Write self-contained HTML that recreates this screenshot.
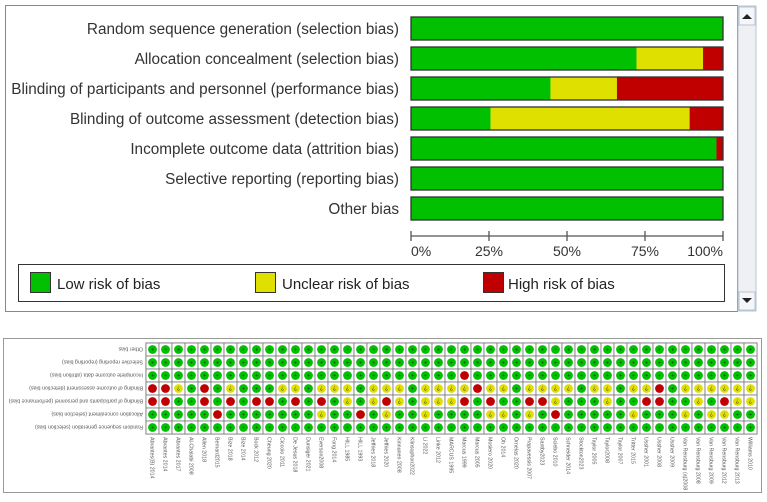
<!DOCTYPE html>
<html><head><meta charset="utf-8"><style>
body{margin:0;background:#fff;width:767px;height:497px;overflow:hidden;font-family:"Liberation Sans",sans-serif}
</style></head><body>
<svg id="svg" width="767" height="497" xmlns="http://www.w3.org/2000/svg">
<rect x="5.5" y="5.5" width="732" height="306" fill="#fff" stroke="#888"/>
<g>
<rect x="738" y="6" width="18" height="305" fill="#eef0f4" stroke="#b8c4d4"/>
<rect x="739" y="7" width="16" height="18" fill="#f4f6f9" stroke="#b8c4d4"/>
<path d="M742 19 L747 14 L752 19 Z" fill="#222"/>
<rect x="739" y="292" width="16" height="18" fill="#f4f6f9" stroke="#b8c4d4"/>
<path d="M742 298 L747 303 L752 298 Z" fill="#222"/>
</g>
<g id="bars"></g>
<g id="axis"></g>
<g>
<rect x="18.5" y="264.5" width="706" height="37" fill="#fff" stroke="#333"/>
<g><rect x="30.5" y="272.5" width="20" height="20" fill="#00c000" stroke="#333"/><text x="57" y="289" font-size="15" fill="#222">Low risk of bias</text></g>
<g><rect x="255.5" y="272.5" width="20" height="20" fill="#e0e000" stroke="#333"/><text x="282" y="289" font-size="15" fill="#222">Unclear risk of bias</text></g>
<g><rect x="483.5" y="272.5" width="20" height="20" fill="#c00000" stroke="#333"/><text x="508" y="289" font-size="15" fill="#222">High risk of bias</text></g>
</g>
<rect x="3.5" y="338.5" width="758" height="154" fill="#fff" stroke="#999"/>
<g id="summary"></g>
</svg>
<script>
const domains=["Random sequence generation (selection bias)","Allocation concealment (selection bias)","Blinding of participants and personnel (performance bias)","Blinding of outcome assessment (detection bias)","Incomplete outcome data (attrition bias)","Selective reporting (reporting bias)","Other bias"];
const lowPct=[100,72.3,44.7,25.5,97.9,100,100];
const unclearPct=[0,21.3,21.3,63.8,0,0,0];
const highPct=[0,6.4,34.0,10.6,2.1,0,0];
const ticks=["0%","25%","50%","75%","100%"];
const tickVals=[0,25,50,75,100];
const studies=["Abrantes(B) 2014","Abrantes 2014","Abrantes 2017","Al-Chalabi 2008","Allen 2018","Bernard2015","Bize 2018","Bize 2014","Bock 2012","Cheung 2020","Ciccolo 2011","De Jesus 2018","Dunsiger 2021","Everson2008","Fong 2014","HILL 1985","HILL 1993","Jeffries 2018","Jeffries 2020","Kinnunen 2008","Klinsophon2022","Li 2022","Linke 2012","MARCUS 1995","Marcus 1999","Marcus 2005","Mosiero 2020","Oh 2014","Ornelas 2020","Prapavessis 2007","Santby2023","Sciebo 2010","Schneider 2014","Stockton2023","Taylor 2005","Taylor2008","Taylor 2007","Tritter 2015","Ussher 2001","Ussher 2008","Ussher 2009","Van Rensburg (a)2008","Van Rensburg 2008","Van Rensburg 2009","Van Rensburg 2012","Van Rensburg 2013","Williams 2010"];
const summaryRows=["Other bias","Selective reporting (reporting bias)","Incomplete outcome data (attrition bias)","Blinding of outcome assessment (detection bias)","Blinding of participants and personnel (performance bias)","Allocation concealment (selection bias)","Random sequence generation (selection bias)"];
const rowOther="GGGGGGGGGGGGGGGGGGGGGGGGGGGGGGGGGGGGGGGGGGGGGGG";
const rowSelective="GGGGGGGGGGGGGGGGGGGGGGGGGGGGGGGGGGGGGGGGGGGGGGG";
const rowIncomplete="GGGGGGGGGGGGGGGGGGGGGGGGRGGGGGGGGGGGGGGGGGGGGGG";
const rowOutcome="RRYGRGYGGGYYGYYYGY"+"YYGYYYYRYYGYYYYGYYGYYRGYYYYYY";
const rowParticipants="RRGGRGRGRRGRGRGYGY"+"RYGYYYRGRGGRRYGGGYGGRRGGYGRYY";
const rowAllocation="GGGGGRGGGGGGGYGGRG"+"YGGYGGGGYYGYGRGGGGGYGGGYGYYGG";
const rowRandom="GGGGGGGGGGGGGGGGGGGGGGGGGGGGGGGGGGGGGGGGGGGGGGG";
const summaryData=[rowOther,rowSelective,rowIncomplete,rowOutcome,rowParticipants,rowAllocation,rowRandom];

const NS="http://www.w3.org/2000/svg";
function mk(tag,attrs,parent){const e=document.createElementNS(NS,tag);for(const k in attrs)e.setAttribute(k,attrs[k]);parent.appendChild(e);return e;}
const x0=411,x1=723;
const xs=v=>x0+(x1-x0)*v/100;
const yRow=i=>17+i*30;
const barH=23;
const bars=document.getElementById('bars');
domains.forEach((d,i)=>{
  const y=yRow(i);
  const g=mk('g',{},bars);
  
  
  const t=mk('text',{x:399,y:y+17,'font-size':'15.3','text-anchor':'end',fill:'#333'},g);
  t.textContent=d;
  
  
  const segs=[[0,lowPct[i],'#00c000','low'],[lowPct[i],lowPct[i]+unclearPct[i],'#e0e000','unclear'],[lowPct[i]+unclearPct[i],lowPct[i]+unclearPct[i]+highPct[i],'#c00000','high']];
  segs.forEach(s=>{
    if(s[1]-s[0]<=0)return;
    const r=mk('rect',{x:xs(s[0]),y:y,width:xs(s[1])-xs(s[0]),height:barH,fill:s[2]},g);
    
    
  });
  mk('rect',{x:x0,y:y,width:x1-x0,height:barH,fill:'none',stroke:'#333','stroke-width':1.3},g);
});
const axis=document.getElementById('axis');
mk('line',{x1:x0,y1:236,x2:x1,y2:236,stroke:'#555','stroke-width':1.3},axis);
tickVals.forEach((v,i)=>{
  mk('line',{x1:xs(v),y1:231,x2:xs(v),y2:241,stroke:'#555','stroke-width':1.3},axis);
  const t=mk('text',{x:xs(v),y:256,'font-size':'14','text-anchor':v===0?'start':(v===100?'end':'middle'),fill:'#333'},axis);
  t.textContent=ticks[i];
  
  
});
const sum=document.getElementById('summary');
const gx0=146,gy0=343,cw=611/studies.length,rh=13;
const colors={G:'#00c000',Y:'#e0e000',R:'#c00000'};
summaryRows.forEach((r,ri)=>{
  const cy=gy0+ri*rh+rh/2;
  const t=mk('text',{x:0,y:0,'font-size':'5.3',fill:'#555',transform:`translate(143,${cy-2}) rotate(180)`},sum);
  t.textContent=r;
  
  
});
mk('rect',{x:gx0,y:gy0,width:611,height:rh*7,fill:'#fff',stroke:'#777'},sum);
studies.forEach((s,ci)=>{
  const cx=gx0+ci*cw+cw/2;
  const t=mk('text',{x:0,y:0,'font-size':'5.3',fill:'#555',transform:`translate(${cx-2},${gy0+rh*7+3}) rotate(90)`},sum);
  t.textContent=s;
  
  
  summaryData.forEach((row,ri)=>{
    const v=row[ci];
    const x=gx0+ci*cw,y=gy0+ri*rh;
    mk('rect',{x:x,y:y,width:cw,height:rh,fill:'#fff',stroke:'#777','stroke-width':0.8},sum);
    const c=mk('circle',{cx:x+cw/2,cy:y+rh/2,r:4.4,fill:colors[v]},sum);
    
    
    if(v!=='R'){
      const tt=mk('text',{x:0,y:0,'font-size':'5','text-anchor':'middle',fill:'#222',transform:`translate(${x+cw/2},${y+rh/2-1.8}) rotate(180)`},sum);
      tt.textContent=v==='G'?'+':'?';
    }
  });
});
</script>
</body></html>
